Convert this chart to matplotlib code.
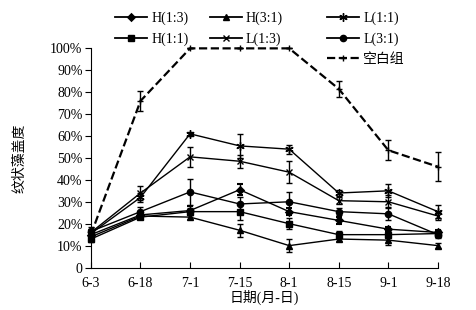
import matplotlib
matplotlib.use("Agg")
import matplotlib.pyplot as plt
from matplotlib.lines import Line2D

plt.rcParams['font.family'] = ['Liberation Serif', 'Noto Sans CJK SC']
plt.rcParams['font.size'] = 10

dates = ['6-3', '6-18', '7-1', '7-15', '8-1', '8-15', '9-1', '9-18']

h13 = [15, 24, 26, 35.5, 25.5, 21.5, 17.5, 16]
h13_err = [1.5, 1.5, 2, 2.5, 1.5, 1.5, 1, 1]
h11 = [13, 23, 25.5, 25.5, 20, 15, 15, 15.5]
h11_err = [1.5, 1, 1.5, 4, 2.5, 1.5, 1.5, 1.5]
h31 = [14, 23.5, 23, 17, 10, 13, 12.5, 10]
h31_err = [1, 1, 1, 3, 3, 1, 2, 1]
l13 = [16, 34, 50.5, 48.5, 43.5, 30.5, 30, 23.5]
l13_err = [1.5, 3, 4.5, 3, 5, 1.5, 3, 2]
l11 = [15.5, 32, 61, 55.5, 54, 34, 35, 25.5]
l11_err = [1, 2, 1, 5.5, 2, 1.5, 3, 3]
l31 = [16.5, 25.5, 34.5, 29, 30, 25.5, 24.5, 15]
l31_err = [2, 2, 6, 3, 4.5, 1.5, 3, 1.5]
blank = [15, 76, 100, 100, 100, 81.5, 53.5, 46]
blank_err = [1, 4.5, 0, 0, 0, 3.5, 4.5, 6.5]

fig = plt.figure(figsize=(4.76, 3.10), dpi=100)
ax = fig.add_axes([0.191, 0.137, 0.729, 0.707])

x = list(range(len(dates)))
series = [
    ('H(1:3)', h13, h13_err, 'D', 3.3, 1.5, '-'),
    ('H(1:1)', h11, h11_err, 's', 5, 1, '-'),
    ('H(3:1)', h31, h31_err, '^', 5, 1, '-'),
    ('L(1:3)', l13, l13_err, 'x', 5, 1, '-'),
    ('L(1:1)', l11, l11_err, (6, 2, 0), 6, 1, '-'),
    ('L(3:1)', l31, l31_err, 'o', 4.5, 1, '-'),
    ('空白组', blank, blank_err, '+', 5, 1, '--'),
]
proxies = {}
for name, y, e, m, ms, mew, ls in series:
    lw = 1.6 if ls == '--' else 1
    c = ax.errorbar(x, y, yerr=e, color='black', lw=lw, ls=ls, marker=m, ms=ms,
                    mew=mew, capsize=2.5, elinewidth=1)
    for art in [c.lines[0]] + list(c.lines[1]) + list(c.lines[2]):
        art.set_clip_on(False)
    proxies[name] = Line2D([], [], color='black', lw=1.6 if ls == '--' else 1.3,
                           ls=ls, marker=m, ms=ms, mew=mew)

ax.set_xlim(0, 7)
ax.set_ylim(0, 100)
ax.set_xticks(x)
ax.set_xticklabels(dates)
ax.set_yticks(range(0, 101, 10))
ax.set_yticklabels(['0'] + ['%d%%' % v for v in range(10, 101, 10)])
ax.spines['top'].set_visible(False)
ax.spines['right'].set_visible(False)
ax.tick_params(axis='x', direction='in', length=4, pad=7)
ax.tick_params(axis='y', direction='out', length=4, pad=2)
ax.set_xlabel('日期(月-日)', labelpad=0)
ax.set_ylabel('纹状藻盖度', labelpad=17)

columns = [
    (['H(1:3)', 'H(1:1)'], 0.242),
    (['H(3:1)', 'L(1:3)'], 0.441),
    (['L(1:1)', 'L(3:1)', '空白组'], 0.687),
]
for names, xpos in columns:
    lg = fig.legend([proxies[n] for n in names], names, loc='upper left',
                    bbox_to_anchor=(xpos, 0.962), frameon=False,
                    handlelength=2.3, handletextpad=0.3, labelspacing=0.5,
                    borderpad=0, borderaxespad=0)

fig.savefig('out.png', dpi=100)
